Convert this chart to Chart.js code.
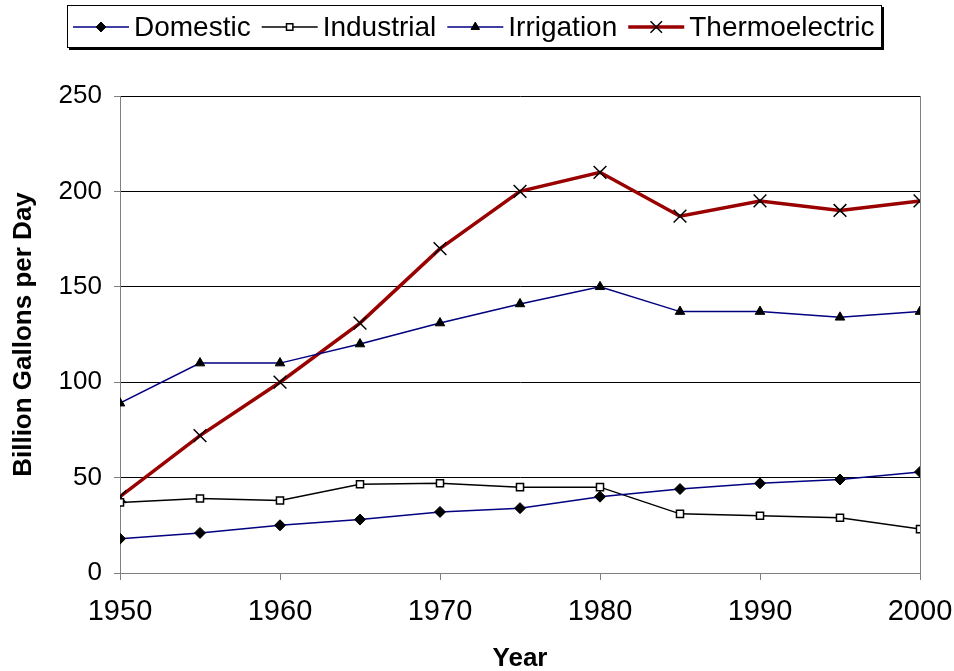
<!DOCTYPE html>
<html>
<head>
<meta charset="utf-8">
<script src="https://cdn.jsdelivr.net/npm/chart.js@4"></script>
<style>
  html, body { margin: 0; padding: 0; background: #fff; }
  #wrap { width: 954px; height: 671px; }
</style>
</head>
<body>
<div id="wrap"><canvas id="myChart" width="954" height="671"></canvas></div>
<script>
// valores (bilhoes de galoes por dia)
var years = [1950, 1955, 1960, 1965, 1970, 1975, 1980, 1985, 1990, 1995, 2000];
var domestic = [18, 21, 25, 28, 32, 34, 40, 44, 47, 49, 53];
var industrial = [37, 39, 38, 46.5, 47, 45, 45, 31, 30, 29, 23];
var irrigation = [89, 110, 110, 120, 131, 141, 150, 137, 137, 134, 137];
var thermoelectric = [40, 72, 100, 131, 170, 200, 210, 187, 195, 190, 195];
var seriesNames = ['Domestic', 'Industrial', 'Irrigation', 'Thermoelectric'];
var yTicks = [0, 50, 100, 150, 200, 250];
var xTicks = [1950, 1960, 1970, 1980, 1990, 2000];

var FONT = '"Liberation Sans", Arial, sans-serif';

function pontos(valores){
    var lista = [];
    for(var i = 0; i < years.length; i++){
        lista.push({x: years[i], y: valores[i]});
    }
    return lista;
}

// legenda desenhada na mao: linha + marcador + texto, dentro de uma caixa
var legendaPlugin = {
    id: 'legenda',
    afterDraw: function(chart){
        var ctx = chart.ctx;
        ctx.save();
        // caixa com sombra
        ctx.fillStyle = '#000';
        ctx.fillRect(69, 7, 815, 43);
        ctx.fillStyle = '#fff';
        ctx.fillRect(67, 5, 815, 43);
        ctx.strokeStyle = '#000';
        ctx.lineWidth = 1;
        ctx.strokeRect(67.5, 5.5, 814, 42);

        ctx.font = '28px ' + FONT;
        ctx.textBaseline = 'middle';
        var x = 73;
        var y = 27;
        chart.data.datasets.forEach(function(ds){
            ctx.strokeStyle = ds.borderColor;
            ctx.lineWidth = ds.borderWidth;
            ctx.beginPath();
            ctx.moveTo(x, y);
            ctx.lineTo(x + 56, y);
            ctx.stroke();

            ctx.fillStyle = ds.pointBackgroundColor;
            ctx.strokeStyle = ds.pointBorderColor;
            ctx.lineWidth = ds.pointBorderWidth;
            Chart.helpers.drawPoint(ctx, {
                pointStyle: ds.pointStyle,
                radius: ds.pointRadius * 0.9,
                borderWidth: ds.pointBorderWidth,
                rotation: 0
            }, x + 28, y);

            ctx.fillStyle = '#000';
            ctx.fillText(ds.label, x + 61, y + 1);
            x = x + 61 + ctx.measureText(ds.label).width + 11;
        });
        ctx.restore();
    }
};

var ctx = document.getElementById('myChart').getContext('2d');

var myChart = new Chart(ctx, {
    type: 'line',
    data: {
        datasets: [{
            label: seriesNames[0],
            data: pontos(domestic),
            borderColor: '#000080',
            borderWidth: 1.5,
            pointStyle: 'rectRot',
            pointRadius: 5.5,
            pointBackgroundColor: '#000',
            pointBorderColor: '#000',
            pointBorderWidth: 1
        }, {
            label: seriesNames[1],
            data: pontos(industrial),
            borderColor: '#000',
            borderWidth: 1.5,
            pointStyle: 'rect',
            pointRadius: 5,
            pointBackgroundColor: '#fff',
            pointBorderColor: '#000',
            pointBorderWidth: 1.5
        }, {
            label: seriesNames[2],
            data: pontos(irrigation),
            borderColor: '#000080',
            borderWidth: 1.5,
            pointStyle: 'triangle',
            pointRadius: 5.5,
            pointBackgroundColor: '#000',
            pointBorderColor: '#000',
            pointBorderWidth: 1
        }, {
            label: seriesNames[3],
            data: pontos(thermoelectric),
            borderColor: '#990000',
            borderWidth: 3.5,
            pointStyle: 'crossRot',
            pointRadius: 9,
            pointBackgroundColor: '#000',
            pointBorderColor: '#000',
            pointBorderWidth: 1.5
        }]
    },
    options: {
        responsive: false,
        animation: false,
        layout: { padding: { top: 96, right: 34, left: 0, bottom: 0 } },
        plugins: {
            legend: { display: false },
            tooltip: { enabled: false }
        },
        scales: {
            x: {
                type: 'linear',
                min: 1950,
                max: 2000,
                afterBuildTicks: function(scale){
                    scale.ticks = xTicks.map(function(v){ return {value: v}; });
                },
                afterFit: function(scale){
                    scale.height = 98;
                    scale.paddingLeft = 0;
                    scale.paddingRight = 0;
                },
                border: { color: '#808080', width: 1 },
                grid: {
                    drawOnChartArea: true,
                    color: function(c){ return c.tick && c.tick.value === 2000 ? '#808080' : 'rgba(0,0,0,0)'; },
                    tickColor: '#808080',
                    tickLength: 7
                },
                ticks: {
                    color: '#000',
                    padding: 15,
                    maxRotation: 0,
                    font: { family: FONT, size: 29 },
                    callback: function(v){ return String(v); }
                },
                title: {
                    display: true,
                    text: 'Year',
                    color: '#000',
                    padding: { top: 4, bottom: -3 },
                    font: { family: FONT, size: 26, weight: 'bold' }
                }
            },
            y: {
                min: 0,
                max: 250,
                afterBuildTicks: function(scale){
                    scale.ticks = yTicks.map(function(v){ return {value: v}; });
                },
                afterFit: function(scale){ scale.width = 120; },
                border: { color: '#808080', width: 1 },
                grid: {
                    color: function(c){ return c.tick && c.tick.value === 0 ? '#808080' : '#000'; },
                    tickColor: '#808080',
                    tickLength: 6
                },
                ticks: {
                    color: '#000',
                    padding: 12,
                    font: { family: FONT, size: 26 }
                },
                title: {
                    display: true,
                    text: 'Billion Gallons per Day',
                    color: '#000',
                    padding: { top: 8, bottom: 0 },
                    font: { family: FONT, size: 26, weight: 'bold' }
                }
            }
        }
    },
    plugins: [legendaPlugin]
});
</script>
</body>
</html>
